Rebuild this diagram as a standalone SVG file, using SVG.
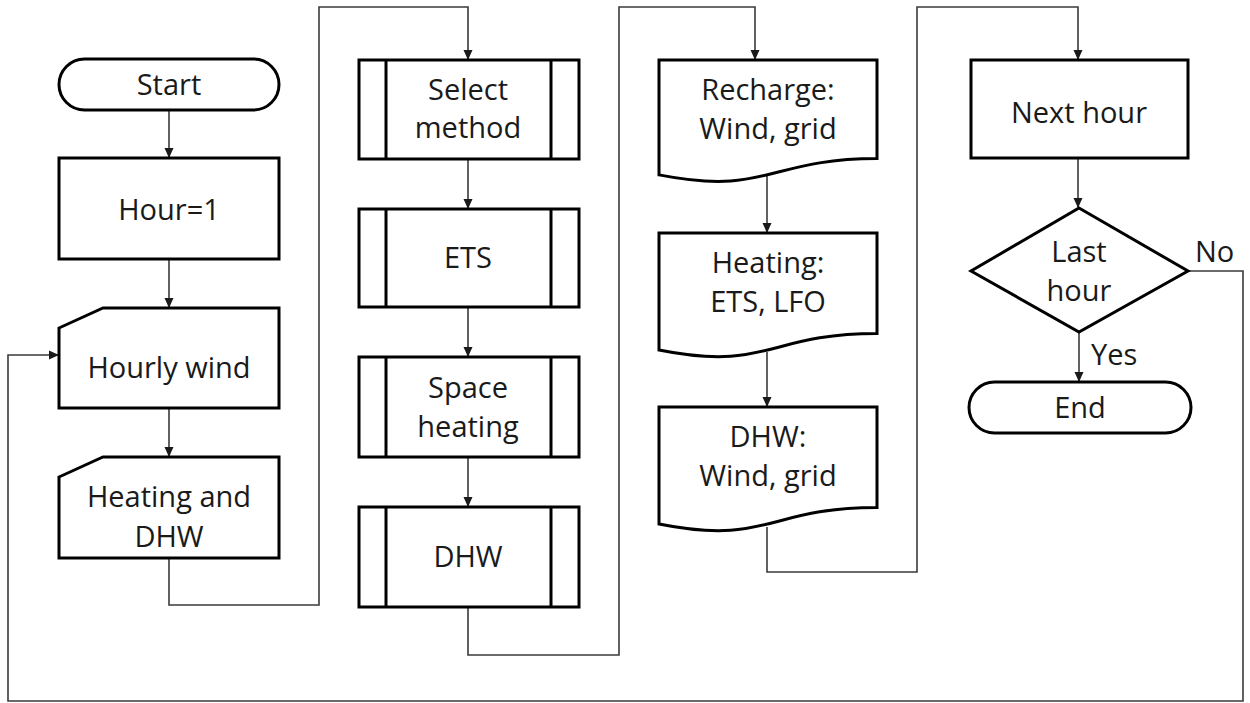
<svg xmlns="http://www.w3.org/2000/svg" width="1250" height="703" viewBox="0 0 1250 703">
<defs>
<marker id="arr" markerWidth="10" markerHeight="10" refX="9" refY="5" orient="auto" markerUnits="userSpaceOnUse">
<path d="M0,0.5 L10,5 L0,9.5 Z" fill="#1a1a1a"/>
</marker>
<style>
.n{fill:#fff;stroke:#000;stroke-width:3;stroke-linejoin:miter}
.in{stroke:#000;stroke-width:3}
.c{fill:none;stroke:#3a3a3a;stroke-width:1.6}
.a{marker-end:url(#arr)}
text{font-family:"Open Sans","Noto Sans",sans-serif;font-size:29px;fill:#1a1a1a;text-anchor:middle}
.l{text-anchor:start}
</style>
</defs>
<rect width="1250" height="703" fill="#fff"/>
<g id="connectors">
<path class="c a" d="M169,110 V157"/>
<path class="c a" d="M169,259 V307"/>
<path class="c a" d="M169,408 V456"/>
<path class="c a" d="M169,558 V605 H319 V7 H468 V59"/>
<path class="c a" d="M468,159 V208"/>
<path class="c a" d="M468,307 V356"/>
<path class="c a" d="M468,457 V506"/>
<path class="c a" d="M468,607 V655 H619 V7 H755 V59"/>
<path class="c a" d="M767,175 V232"/>
<path class="c a" d="M767,352 V406"/>
<path class="c a" d="M767,527 V572 H917 V7 H1078 V59"/>
<path class="c a" d="M1078,158 V207"/>
<path class="c a" d="M1188,271 H1243 V701 H8 V355 H58"/>
<path class="c a" d="M1079,332 V381"/>
</g>
<g id="start">
<rect class="n" x="59" y="59" width="220" height="51" rx="25.5"/>
<text x="169" y="95">Start</text>
</g>
<g id="hour1">
<rect class="n" x="59" y="158" width="220" height="101"/>
<text x="169" y="220">Hour=1</text>
</g>
<g id="hourly-wind">
<path class="n" d="M59,328 L103,308 H279 V408 H59 Z"/>
<text x="169" y="378">Hourly wind</text>
</g>
<g id="heating-dhw">
<path class="n" d="M59,477 L103,457 H279 V558 H59 Z"/>
<text x="169" y="507">Heating and</text>
<text x="169" y="547">DHW</text>
</g>
<g id="select-method">
<rect class="n" x="359" y="60" width="220" height="99"/>
<line class="in" x1="386" y1="60" x2="386" y2="159"/>
<line class="in" x1="551" y1="60" x2="551" y2="159"/>
<text x="468" y="100">Select</text>
<text x="468" y="138">method</text>
</g>
<g id="ets">
<rect class="n" x="359" y="209" width="220" height="98"/>
<line class="in" x1="386" y1="209" x2="386" y2="307"/>
<line class="in" x1="551" y1="209" x2="551" y2="307"/>
<text x="468" y="268">ETS</text>
</g>
<g id="space-heating">
<rect class="n" x="359" y="357" width="220" height="100"/>
<line class="in" x1="386" y1="357" x2="386" y2="457"/>
<line class="in" x1="551" y1="357" x2="551" y2="457"/>
<text x="468" y="398">Space</text>
<text x="468" y="437">heating</text>
</g>
<g id="dhw">
<rect class="n" x="359" y="507" width="220" height="100"/>
<line class="in" x1="386" y1="507" x2="386" y2="607"/>
<line class="in" x1="551" y1="507" x2="551" y2="607"/>
<text x="468" y="567">DHW</text>
</g>
<g id="recharge">
<path class="n" d="M659,60 H877 V158.6 C768,158.6 768,196.2 659,174.9 Z"/>
<text x="768" y="100">Recharge:</text>
<text x="768" y="139">Wind, grid</text>
</g>
<g id="heating-ets-lfo">
<path class="n" d="M659,233 H877 V333.5 C768,333.5 768,371.8 659,350 Z"/>
<text x="768" y="273">Heating:</text>
<text x="768" y="312">ETS, LFO</text>
</g>
<g id="dhw-wind-grid">
<path class="n" d="M659,407 H877 V507.5 C768,507.5 768,545.8 659,524 Z"/>
<text x="768" y="447">DHW:</text>
<text x="768" y="486">Wind, grid</text>
</g>
<g id="next-hour">
<rect class="n" x="971" y="60" width="217" height="98"/>
<text x="1079" y="123">Next hour</text>
</g>
<g id="last-hour">
<path class="n" d="M1079,208 L1188,271 L1079,332 L971,271 Z"/>
<text x="1079" y="262">Last</text>
<text x="1079" y="301">hour</text>
<text class="l" x="1195" y="262">No</text>
<text class="l" x="1091" y="365">Yes</text>
</g>
<g id="end">
<rect class="n" x="969" y="382" width="222" height="51" rx="25.5"/>
<text x="1080" y="418">End</text>
</g>
</svg>
